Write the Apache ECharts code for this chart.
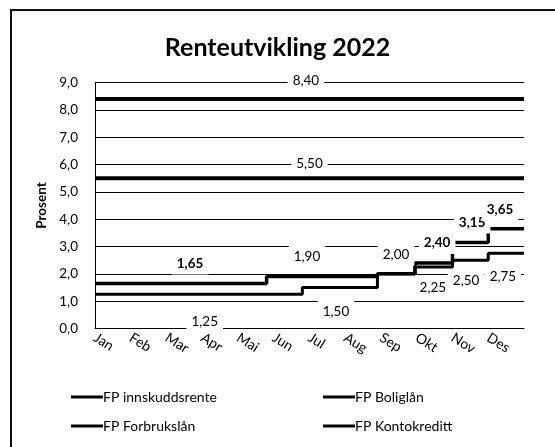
<!DOCTYPE html>
<html>
<head>
<meta charset="utf-8">
<script src="https://cdn.jsdelivr.net/npm/echarts@6/dist/echarts.min.js"></script>
<style>
  html, body { margin: 0; padding: 0; background: #fff; }
  #chart { width: 555px; height: 447px; }
</style>
</head>
<body>
<div id="chart"></div>
<script>
  // måneder på x-aksen (0 = 1. jan, 12 = 31. des)
  const months = ['Jan', 'Feb', 'Mar', 'Apr', 'Mai', 'Jun', 'Jul', 'Aug', 'Sep', 'Okt', 'Nov', 'Des'];
  const yTicks = [0, 1, 2, 3, 4, 5, 6, 7, 8, 9];

  // renteendringer: tidspunkt (måned) og rente
  const innskuddX = [0, 5.8, 7.9, 8.95, 10, 11, 12];
  const innskuddY = [1.25, 1.50, 2.00, 2.25, 2.50, 2.75, 2.75];
  const boliglanX = [0, 4.8, 7.9, 8.95, 10, 11, 12];
  const boliglanY = [1.65, 1.90, 2.00, 2.40, 3.15, 3.65, 3.65];
  const forbrukX = [0, 12];
  const forbrukY = [8.40, 8.40];
  const kontoX = [0, 12];
  const kontoY = [5.50, 5.50];

  // dataetiketter
  const innskuddLblX = [3.07, 6.74, 9.45, 10.38, 11.41];
  const innskuddLblY = [1.25, 1.50, 2.25, 2.50, 2.75];
  const boliglanLblX = [2.66, 5.93, 8.42, 9.57, 10.55, 11.33];
  const boliglanLblY = [1.65, 1.90, 2.00, 2.40, 3.15, 3.65];
  const forbrukLblX = [5.9];
  const forbrukLblY = [8.40];
  const kontoLblX = [6.0];
  const kontoLblY = [5.50];

  // plassering av etikettene (px), holdt utenfor dataene
  const lblStyle = {
    innskudd: { dy: [27, 24, 21, 20, 23], bold: [false, false, false, false, false] },
    bolig: { dy: [-20, -20, -19, -20, -20, -19], bold: [true, false, false, true, true, true] },
    forbruk: { dy: [-18], bold: [false] },
    konto: { dy: [-15], bold: [false] }
  };

  const font = 'Lato, "Noto Sans", sans-serif';
  const comma = (v, d) => v.toFixed(d).replace('.', ',');
  const pairs = (xs, ys) => xs.map((x, i) => [x, ys[i]]);

  function lineSeries(name, xs, ys, width) {
    return {
      name: name,
      type: 'line',
      step: 'end',
      symbol: 'none',
      data: pairs(xs, ys),
      lineStyle: { color: '#000', width: width },
      itemStyle: { color: '#000' },
      z: 3
    };
  }

  function labelSeries(xs, ys, st) {
    return {
      type: 'scatter',
      symbolSize: 0,
      silent: true,
      z: 4,
      itemStyle: { opacity: 1 },
      data: xs.map((x, i) => ({
        value: [x, ys[i]],
        label: { offset: [0, st.dy[i]], fontWeight: st.bold[i] ? 'bold' : 'normal' }
      })),
      label: {
        show: true,
        position: 'inside',
        formatter: p => comma(p.value[1], 2),
        color: '#000',
        opacity: 1,
        fontFamily: font,
        fontSize: 13.5,
        backgroundColor: '#fff',
        padding: [4, 5]
      }
    };
  }

  function legendBlock(names, left) {
    return {
      data: names.map(n => ({ name: n, icon: 'rect' })),
      orient: 'vertical',
      left: left,
      top: 385,
      itemGap: 15,
      itemWidth: 32,
      itemHeight: 3,
      textStyle: { fontFamily: font, fontSize: 14, color: '#000', padding: [0, 0, 0, -5] }
    };
  }

  const chart = echarts.init(document.getElementById('chart'));
  chart.setOption({
    backgroundColor: '#fff',
    animation: false,
    graphic: [{
      type: 'rect',
      shape: { x: 11, y: 10, width: 700, height: 600 },
      style: { fill: 'none', stroke: '#111', lineWidth: 2 }
    }],
    title: {
      text: 'Renteutvikling 2022',
      left: 'center',
      top: 30,
      textStyle: { fontFamily: font, fontSize: 25, fontWeight: 'bold', color: '#000' }
    },
    grid: { left: 95, right: 31, top: 82.5, bottom: 118.5 },
    legend: [
      legendBlock(['FP innskuddsrente', 'FP Forbrukslån'], 66),
      legendBlock(['FP Boliglån', 'FP Kontokreditt'], 318)
    ],
    xAxis: {
      type: 'value',
      min: 0,
      max: 12,
      interval: 1,
      axisLine: { show: true, lineStyle: { color: '#000', width: 1 } },
      axisTick: { show: false },
      splitLine: { show: false },
      axisLabel: {
        rotate: -32,
        margin: 8,
        fontFamily: font,
        fontSize: 14,
        color: '#000',
        formatter: v => (v < 12 ? months[v] : '')
      }
    },
    yAxis: {
      type: 'value',
      min: yTicks[0],
      max: yTicks[yTicks.length - 1],
      interval: 1,
      name: 'Prosent',
      nameLocation: 'middle',
      nameRotate: 90,
      nameGap: 46,
      nameTextStyle: { fontFamily: font, fontSize: 13.5, fontWeight: 'bold', color: '#000' },
      axisLine: { show: true, lineStyle: { color: '#000', width: 1 } },
      axisTick: { show: false },
      splitLine: { show: true, lineStyle: { color: '#000', width: 1 } },
      axisLabel: {
        margin: 17,
        fontFamily: font,
        fontSize: 13.5,
        color: '#000',
        formatter: v => comma(v, 1)
      }
    },
    series: [
      lineSeries('FP innskuddsrente', innskuddX, innskuddY, 3),
      lineSeries('FP Boliglån', boliglanX, boliglanY, 3.5),
      lineSeries('FP Forbrukslån', forbrukX, forbrukY, 4),
      lineSeries('FP Kontokreditt', kontoX, kontoY, 4),
      labelSeries(innskuddLblX, innskuddLblY, lblStyle.innskudd),
      labelSeries(boliglanLblX, boliglanLblY, lblStyle.bolig),
      labelSeries(forbrukLblX, forbrukLblY, lblStyle.forbruk),
      labelSeries(kontoLblX, kontoLblY, lblStyle.konto)
    ]
  });
</script>
</body>
</html>
